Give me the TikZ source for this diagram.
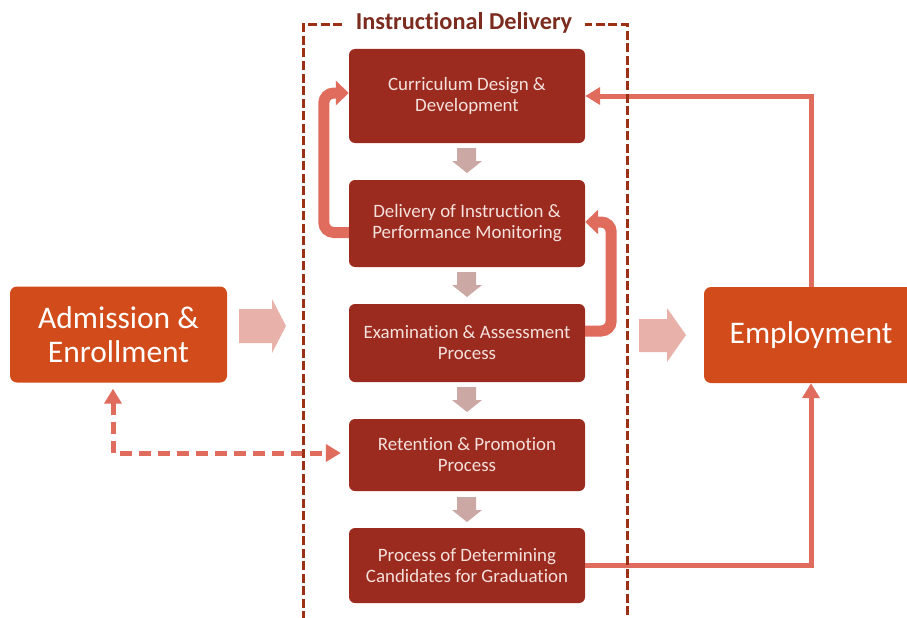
\documentclass[tikz,border=0pt]{standalone}
\usepackage{fontspec}
\setmainfont{Carlito}[Ligatures={NoCommon}]
\usetikzlibrary{arrows.meta,calc}
\definecolor{boxred}{HTML}{9C2B1F}
\definecolor{boxorange}{HTML}{D24B1A}
\definecolor{salmon}{HTML}{E06C5E}
\definecolor{framecol}{HTML}{9C3015}
\definecolor{titlecol}{HTML}{7B2C1E}
\definecolor{pinkarrow}{HTML}{E8B2AA}
\definecolor{greyarrow}{HTML}{CCA8A4}
\definecolor{lighttext}{HTML}{F4E0DC}
\begin{document}
\begin{tikzpicture}[x=1pt,y=-1pt,
  stage/.style={fill=boxred, rounded corners=6pt, minimum width=236pt, inner sep=0pt,
    align=center, text=lighttext, font=\fontsize{18.9}{21}\selectfont},
  endbox/.style={fill=boxorange, rounded corners=7pt, inner sep=0pt, align=center,
    text=white, font=\fontsize{31.5}{34}\selectfont},
  loopline/.style={draw=salmon, line width=11pt, rounded corners=10pt,
    -{Triangle[width=24pt,length=13pt]}},
  feedline/.style={draw=salmon, line width=5pt, -{Triangle[width=17pt,length=15pt]}},
  dashline/.style={draw=salmon, line width=5pt, dash pattern=on 12pt off 7pt,
    {Triangle[width=17pt,length=15pt]}-{Triangle[width=17pt,length=15pt]}},
  framestyle/.style={draw=framecol, line width=3pt, dash pattern=on 9pt off 3.5pt},
  blockpink/.style={fill=pinkarrow},
  blockgrey/.style={fill=greyarrow}
]
\useasboundingbox (0,0) rectangle (907,618);
\clip (0,0) rectangle (907,618);
\fill[white] (0,0) rectangle (907,618);

% boxes
\node[endbox, minimum width=217pt, minimum height=96pt] (adm) at (118.5,334.5) {Admission \&\\Enrollment};
\node[endbox, minimum width=214pt, minimum height=96pt] (emp) at (811,335) {Employment};
\node[stage, minimum height=94pt] (cur) at (467,96) {Curriculum Design \&\\Development};
\node[stage, minimum height=87pt] (del) at (467,223.5) {Delivery of Instruction \&\\Performance Monitoring};
\node[stage, minimum height=78pt] (exa) at (467,343) {Examination \& Assessment\\Process};
\node[stage, minimum height=72pt] (ret) at (467,455) {Retention \& Promotion\\Process};
\node[stage, minimum height=75pt] (pro) at (467,565.5) {Process of Determining\\Candidates for Graduation};

% block arrows
\fill[blockpink] (239,309) -- (272,309) -- (272,299) -- (286,326) -- (272,353) -- (272,343) -- (239,343) -- cycle;
\fill[blockpink] (639,319) -- (667,319) -- (667,308) -- (686,335) -- (667,362) -- (667,352) -- (639,352) -- cycle;
\foreach \t in {148,272,387,497}{
  \fill[blockgrey] (457,\t) -- (476,\t) -- (476,\t+13) -- (482,\t+13) -- (467,\t+25)
    -- (452,\t+13) -- (457,\t+13) -- cycle;
}

% loops
\draw[loopline] ($(del.west)+(0,9)$) -- ++(-25,0) |- ($(cur.west)+(0,-3)$);
\draw[loopline] ($(exa.east)+(0,-12)$) -- ++(26,0) |- ($(del.east)+(0,-1.5)$);

% feedback lines
\draw[feedline] (emp.north) |- (cur.east);
\draw[feedline] (pro.east) -| (emp.south);
\draw[dashline] ($(adm.south)+(-5.5,6)$) |- ($(ret.west)+(-8,-2)$);

% frame of the instructional delivery group
\draw[framestyle] (303,620) -- (303,25) -- (627,25) -- (627,620);
\node[fill=white, inner xsep=13pt, inner ysep=2pt, anchor=base, text=titlecol,
  font=\bfseries\fontsize{24.3}{26}\selectfont] (title) at (464,30) {Instructional Delivery};
\end{tikzpicture}
\end{document}
